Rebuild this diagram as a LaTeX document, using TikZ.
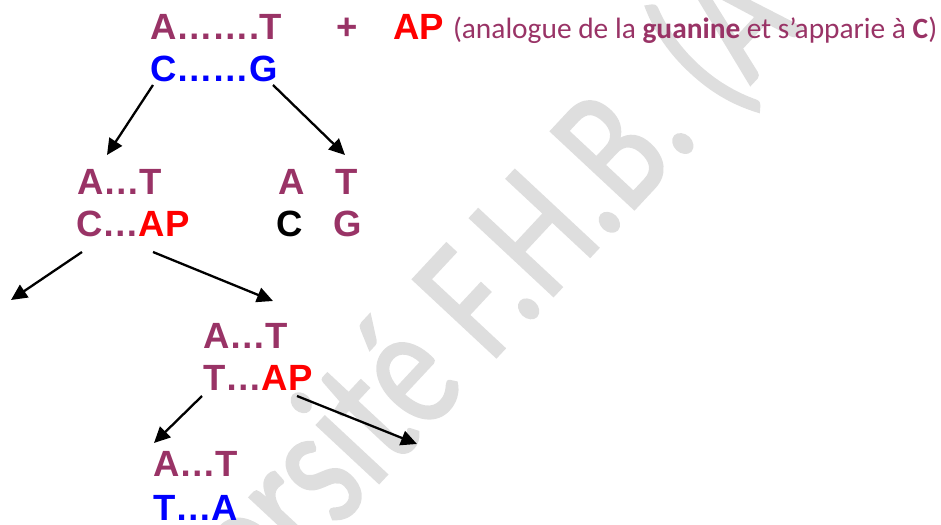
\documentclass[tikz,border=0pt]{standalone}
\usepackage{fontspec}
\setmainfont{Liberation Sans}
\newfontfamily\calfont{Carlito}
\newfontfamily\wmfont[FakeStretch=0.76,FakeBold=1.2]{Carlito}
\usetikzlibrary{arrows.meta}
\definecolor{plum}{RGB}{153,51,102}
\definecolor{pure red}{RGB}{255,0,0}
\definecolor{pure blue}{RGB}{0,0,255}
\definecolor{wmgray}{RGB}{222,222,222}
\tikzset{
  base/.style={inner sep=0pt, outer sep=0pt, anchor=base west,
    font=\fontsize{36.5}{36.5}\selectfont\bfseries},
  note/.style={inner sep=0pt, outer sep=0pt, anchor=base west,
    font=\fontsize{29.4}{29.4}\selectfont\calfont, text=plum},
  arr/.style={line width=2.3pt, -{Triangle[length=16pt,width=15pt]}},
}
\begin{document}
\begin{tikzpicture}[x=1pt,y=-1pt]
\useasboundingbox (0,0) rectangle (941,524);
\clip (0,0) rectangle (941,524);
% watermark
\node[inner sep=0pt, anchor=base west, rotate=47, text=wmgray,
  font=\fontsize{178}{178}\selectfont\wmfont] (wm) at (90,793) {Université F.H.B. (A};
% row 1
\node[base, text=plum] (r1) at (150,40) {A…….T};
\node[base, text=plum] (plus) at (336,40) {+};
\node[base, text=pure red] (ap) at (393,40) {AP};
\node[note] (expl) at (453,39) {(analogue de la \textbf{guanine} et s’apparie à \textbf{C})};
% row 2
\node[base, text=pure blue] (r2) at (150,82) {C……G};
% row 3-4 left
\node[base, text=plum] (l3) at (77,194) {A…T};
\node[base, text=plum] (l4) at (76,236) {C…\textcolor{pure red}{AP}};
% row 3-4 right
\node[base, text=plum] (ra) at (278,194) {A};
\node[base, text=plum] (rt) at (335,194) {T};
\node[base, text=black] (rc) at (276,236) {C};
\node[base, text=plum] (rg) at (333,236) {G};
% rows 5-6
\node[base, text=plum] (m5) at (203,348) {A…T};
\node[base, text=plum] (m6) at (203,390) {T…\textcolor{pure red}{AP}};
% rows 7-8
\node[base, text=plum] (b7) at (153,476) {A…T};
\node[base, text=pure blue] (b8) at (153,520) {T…A};
% arrow end points
\coordinate (a1s) at (153,85);  \coordinate (a1e) at (107,155);
\coordinate (a2s) at (273,85);  \coordinate (a2e) at (345,155);
\coordinate (a3s) at (82,252);  \coordinate (a3e) at (11,300);
\coordinate (a4s) at (153,252); \coordinate (a4e) at (273,301);
\coordinate (a5s) at (202,396); \coordinate (a5e) at (154,443);
\coordinate (a6s) at (297,396); \coordinate (a6e) at (417,444);
\draw[arr] (a1s) -- (a1e);
\draw[arr] (a2s) -- (a2e);
\draw[arr] (a3s) -- (a3e);
\draw[arr] (a4s) -- (a4e);
\draw[arr] (a5s) -- (a5e);
\draw[arr] (a6s) -- (a6e);
\end{tikzpicture}
\end{document}
